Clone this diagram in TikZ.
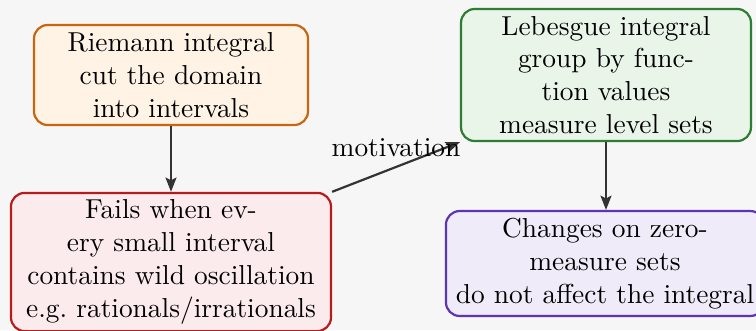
\documentclass[tikz,border=0pt]{standalone}
\usetikzlibrary{arrows.meta}
\definecolor{pagebg}{HTML}{F6F6F6}
\definecolor{linkgray}{HTML}{333333}
\definecolor{rieLine}{HTML}{C8650F}
\definecolor{rieFill}{HTML}{FFF3E6}
\definecolor{failLine}{HTML}{B71C1C}
\definecolor{failFill}{HTML}{FCEBEC}
\definecolor{lebLine}{HTML}{2E7D32}
\definecolor{lebFill}{HTML}{EAF5EA}
\definecolor{chgLine}{HTML}{5E35B1}
\definecolor{chgFill}{HTML}{EFEBF8}
\begin{document}
\begin{tikzpicture}[x=0.36496pt,y=-0.36496pt,
  box/.style={draw, rounded corners=5pt, line width=0.8pt, align=center,
    inner xsep=2pt, inner ysep=2.5pt},
  link/.style={-{Stealth[length=5.2pt,width=4pt,inset=1pt]}, line width=0.8pt, draw=linkgray}]
\fill[pagebg] (0,0) rectangle (756,330);
\useasboundingbox (0,0) rectangle (756,330);

\node[box, draw=rieLine, fill=rieFill, minimum width=100pt, minimum height=36.5pt] (riemann) at (171,75)
  {Riemann integral\\cut the domain\\into intervals};
\node[box, draw=failLine, fill=failFill, minimum width=116.8pt, minimum height=48.9pt] (fails) at (171,262)
  {Fails when ev-\\ery small interval\\contains wild oscillation\\e.g.\ rationals/irrationals};
\node[box, draw=lebLine, fill=lebFill, minimum width=105.8pt, minimum height=48.2pt] (lebesgue) at (606,75)
  {Lebesgue integral\\group by func-\\tion values\\measure level sets};
\node[box, draw=chgLine, fill=chgFill, minimum width=116.1pt, minimum height=38.3pt] (changes) at (605,263.5)
  {Changes on zero-\\measure sets\\do not affect the integral};

\draw[link] (riemann) -- (fails);
\draw[link] (lebesgue.south) -- (lebesgue.south |- changes.north);
\draw[link] (fails.north east) -- node[midway, above] {motivation} (lebesgue.south west);
\end{tikzpicture}
\end{document}
